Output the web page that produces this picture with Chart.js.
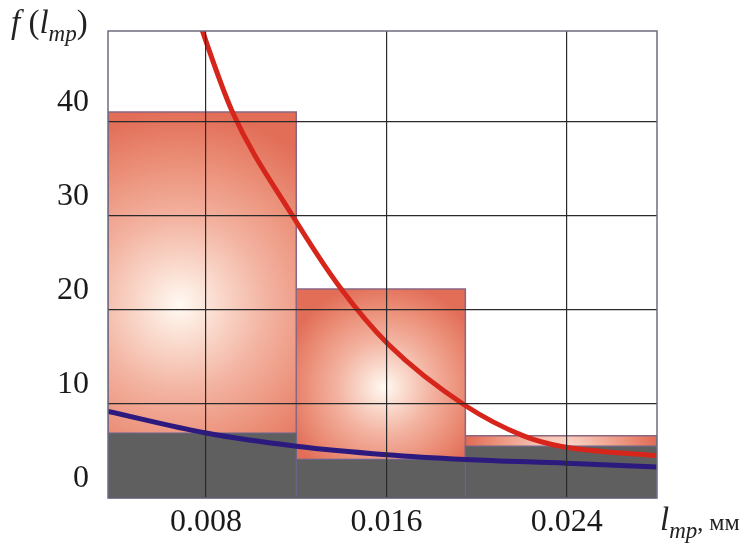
<!DOCTYPE html>
<html lang="ru">
<head>
<meta charset="UTF-8">
<title>f(l_mp)</title>
<script src="https://cdn.jsdelivr.net/npm/chart.js@4.4.1/dist/chart.umd.min.js"></script>
<style>
  body { margin: 0; background: #fff; }
  #wrap { position: relative; width: 748px; height: 548px; }
  canvas { display: block; }
  .lbl { position: absolute; font-family: "Liberation Serif", "DejaVu Serif", serif; color: #222; white-space: nowrap; line-height: 1; }
  .lbl sub { font-size: 23px; vertical-align: -8px; }
</style>
</head>
<body>
<div id="wrap">
  <canvas id="chart" width="748" height="548"></canvas>
  <div class="lbl" style="left:11px; top:6px; font-size:33px;"><i>f</i>&nbsp;(<i>l<sub>mp</sub></i>)</div>
  <div class="lbl" style="left:660px; top:503px; font-size:33px;"><i>l<sub>mp</sub></i><span style="font-size:24px">, мм</span></div>
</div>
<script>
// гистограмма: границы интервалов и высоты столбцов
const binEdges = [0.00365, 0.0120, 0.0195, 0.0280];
const totalCounts = [41.0, 22.2, 6.6];
const darkCounts = [6.9, 4.1, 5.5];

// красная кривая
const redX = [0.0074, 0.00784, 0.00917, 0.01183, 0.01396, 0.01609, 0.01951, 0.02208, 0.02372, 0.0280];
const redY = [52.9, 49.6, 41.0, 30.0, 22.3, 16.3, 9.8, 6.6, 5.5, 4.5];

// синяя кривая
const blueX = [0.00365, 0.0080, 0.0120, 0.0160, 0.0195, 0.0240, 0.0280];
const blueY = [9.2, 6.9, 5.5, 4.6, 4.1, 3.7, 3.3];

const xTicks = [0.008, 0.016, 0.024];
const xTickLabels = ['0.008', '0.016', '0.024'];
const yTicks = [0, 10, 20, 30, 40];

// положение светлого пятна внутри столбца (доли ширины / высоты)
const glowFx = [0.38, 0.52, 0.5];
const glowFy = [0.5, 0.47, 0.5];

function outline(i, h) {
  return [
    { x: binEdges[i], y: 0 },
    { x: binEdges[i], y: h },
    { x: binEdges[i + 1], y: h },
    { x: binEdges[i + 1], y: 0 }
  ];
}

function glow(i) {
  return function (ctx) {
    const chart = ctx.chart;
    if (!chart.chartArea) return '#f0a590';
    const xs = chart.scales.x, ys = chart.scales.y;
    const l = xs.getPixelForValue(binEdges[i]);
    const r = xs.getPixelForValue(binEdges[i + 1]);
    const t = ys.getPixelForValue(totalCounts[i]);
    const b = ys.getPixelForValue(0);
    const cx = l + (r - l) * glowFx[i];
    const cy = t + (b - t) * glowFy[i];
    const rad = Math.max(r - l, b - t) * 0.5;
    const g = chart.ctx.createRadialGradient(cx, cy, 0, cx, cy, rad);
    g.addColorStop(0, '#fffaf3');
    g.addColorStop(0.15, '#fbe2d6');
    g.addColorStop(0.45, '#f3b3a1');
    g.addColorStop(0.75, '#eb8e77');
    g.addColorStop(1, '#e26e58');
    return g;
  };
}

const datasets = [];
datasets.push({
  data: redX.map((x, i) => ({ x: x, y: redY[i] })),
  borderColor: '#d6261c', borderWidth: 5, pointRadius: 0,
  cubicInterpolationMode: 'monotone', fill: false, order: 0
});
datasets.push({
  data: blueX.map((x, i) => ({ x: x, y: blueY[i] })),
  borderColor: '#2c1a7e', borderWidth: 5, pointRadius: 0,
  cubicInterpolationMode: 'monotone', fill: false, order: 1
});
darkCounts.forEach((h, i) => {
  datasets.push({
    data: outline(i, h), borderColor: '#6a6488', borderWidth: 1.2, pointRadius: 0,
    tension: 0, fill: 'origin', backgroundColor: '#5f5f5f', order: 2
  });
});
totalCounts.forEach((h, i) => {
  datasets.push({
    data: outline(i, h), borderColor: '#8a6680', borderWidth: 1.5, pointRadius: 0,
    tension: 0, fill: 'origin', backgroundColor: glow(i), order: 3
  });
});

const frame = {
  id: 'frame',
  afterDraw(chart) {
    const a = chart.chartArea, c = chart.ctx;
    c.save();
    c.strokeStyle = '#6e6c80';
    c.lineWidth = 1.5;
    c.strokeRect(a.left, a.top, a.right - a.left, a.bottom - a.top);
    c.restore();
  }
};

const serif = { family: '"Liberation Serif", "DejaVu Serif", serif', size: 32 };

new Chart(document.getElementById('chart'), {
  type: 'line',
  data: { datasets: datasets },
  plugins: [frame],
  options: {
    responsive: false,
    animation: false,
    devicePixelRatio: 1,
    layout: { padding: { left: 0, right: 91, top: 31, bottom: 0 } },
    plugins: { legend: { display: false }, tooltip: { enabled: false } },
    scales: {
      x: {
        type: 'linear',
        min: binEdges[0],
        max: binEdges[binEdges.length - 1],
        afterBuildTicks(scale) { scale.ticks = xTicks.map(v => ({ value: v })); },
        afterFit(scale) {
          scale.height = 50;
          scale.paddingLeft = 0;
          scale.paddingRight = 0;
        },
        ticks: {
          padding: 5, color: '#1a1a1a', font: serif, maxRotation: 0,
          callback: (v, i) => xTickLabels[i]
        },
        grid: { color: '#2a2a2a', lineWidth: 1.2, drawTicks: false, z: 1 },
        border: { display: false }
      },
      y: {
        min: 0,
        max: 49.6,
        afterBuildTicks(scale) { scale.ticks = yTicks.map(v => ({ value: v })); },
        afterFit(scale) {
          scale.width = 108;
          scale.paddingTop = 0;
          scale.paddingBottom = 0;
        },
        ticks: { padding: 19, color: '#1a1a1a', font: serif, labelOffset: -19 },
        grid: { color: '#2a2a2a', lineWidth: 1.2, drawTicks: false, z: 1 },
        border: { display: false }
      }
    }
  }
});
</script>
</body>
</html>
